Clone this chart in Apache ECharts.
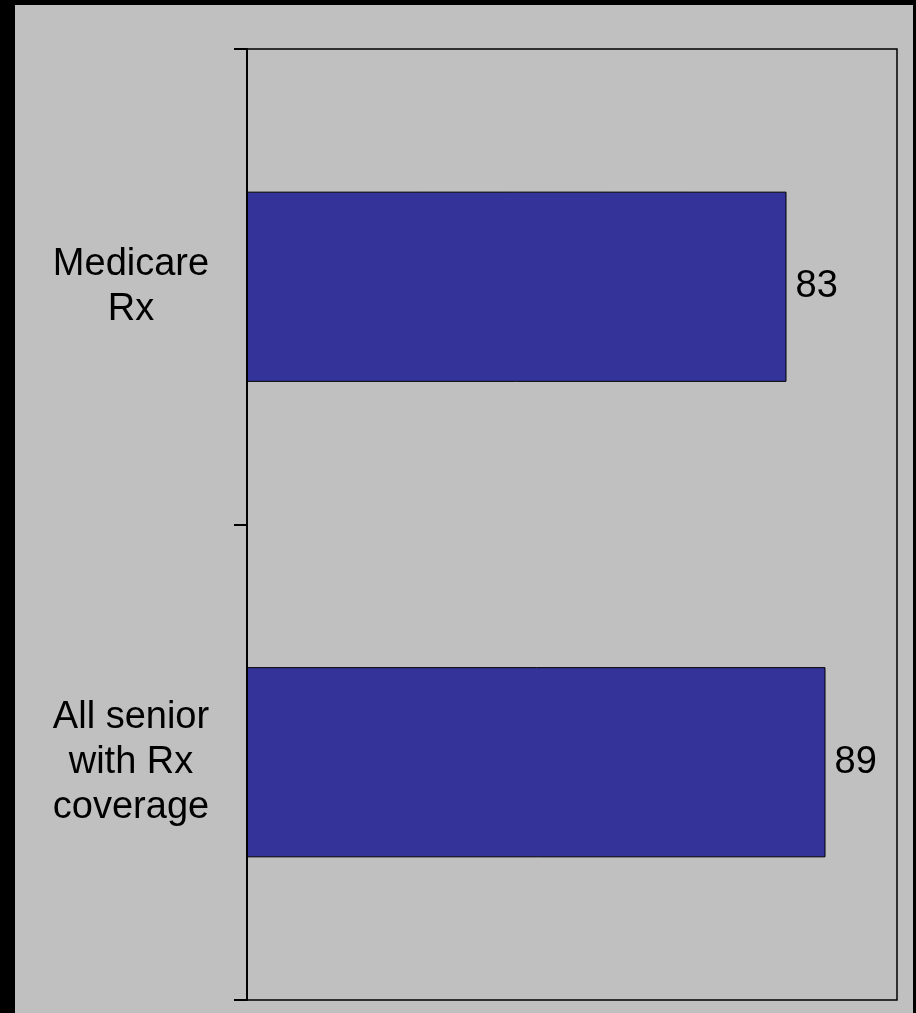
<!DOCTYPE html>
<html>
<head>
<meta charset="utf-8">
<script src="https://cdn.jsdelivr.net/npm/echarts@6/dist/echarts.min.js"></script>
<style>
html,body{margin:0;padding:0;background:#000;}
#chart{width:916px;height:1013px;}
</style>
</head>
<body>
<div id="chart"></div>
<script>
var categories = ['Medicare\nRx', 'All senior\nwith Rx\ncoverage'];
var values = [83, 89];

var chart = echarts.init(document.getElementById('chart'));
chart.setOption({
  backgroundColor: '#000000',
  animation: false,
  graphic: [{
    type: 'rect',
    z: -10,
    silent: true,
    shape: { x: 15, y: 5, width: 898, height: 1008 },
    style: { fill: '#C0C0C0' }
  }],
  grid: {
    left: 247, top: 49, right: 19, bottom: 13,
    show: true, borderColor: '#000', borderWidth: 1.5, backgroundColor: 'transparent'
  },
  xAxis: {
    type: 'value', min: 0, max: 100,
    show: false
  },
  yAxis: {
    type: 'category',
    inverse: true,
    data: categories,
    axisLine: { show: true, lineStyle: { color: '#000', width: 2 } },
    axisTick: { show: true, length: 13, lineStyle: { color: '#000', width: 2 } },
    axisLabel: {
      color: '#000',
      fontFamily: 'Liberation Sans, Arial, sans-serif',
      fontSize: 38,
      lineHeight: 45,
      align: 'center',
      margin: 116
    },
    splitLine: { show: false }
  },
  series: [{
    type: 'bar',
    data: values,
    barCategoryGap: '60%',
    itemStyle: { color: '#333399', borderColor: '#000', borderWidth: 1 },
    label: {
      show: true,
      position: 'right',
      distance: 9,
      color: '#000',
      fontFamily: 'Liberation Sans, Arial, sans-serif',
      fontSize: 38
    }
  }]
});
</script>
</body>
</html>
